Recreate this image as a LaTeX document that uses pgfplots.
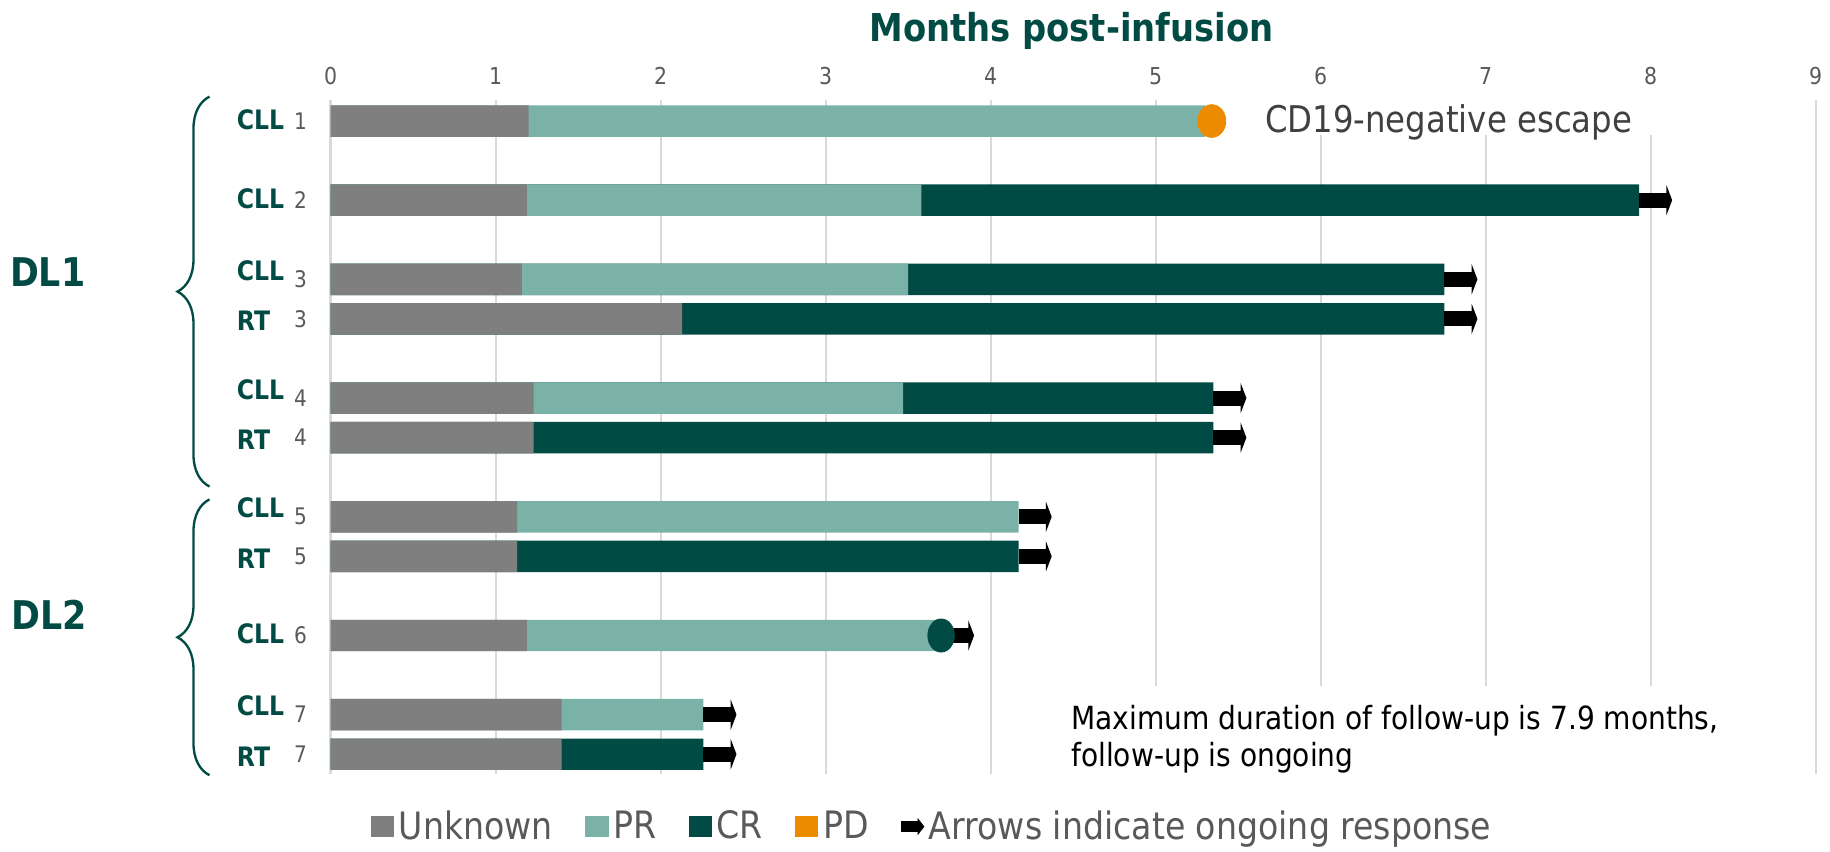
\documentclass[border=0pt]{standalone}
\usepackage{fontspec}
\setmainfont{DejaVu Sans}[FakeStretch=0.88]
\usepackage{pgfplots}
\pgfplotsset{compat=1.18}
\usetikzlibrary{arrows.meta,decorations.pathreplacing}

\definecolor{cUnk}{HTML}{7F7F7F}
\definecolor{cPR}{HTML}{7AB2A8}
\definecolor{cCR}{HTML}{024B44}
\definecolor{cPD}{HTML}{ED8B00}
\definecolor{dg}{HTML}{024B44}
\definecolor{ngray}{HTML}{595959}
\definecolor{gridc}{HTML}{D9D9D9}
\definecolor{ctext}{HTML}{404040}

% row label: bold group name on the left, patient number on the right
\newcommand{\ylab}[3]{\makebox[30pt][l]{\raisebox{#3}[0pt][0pt]{\textcolor{dg}{\fontsize{11.5}{12}\selectfont\bfseries #1}}\hfill\textcolor{ngray}{\fontsize{9.8}{10}\selectfont #2}}}

\pgfplotsset{
  sqlegend/.style={legend image code/.code={\fill[#1] (0pt,-4.25pt) rectangle (9.5pt,4.25pt);}},
  arrlegend/.style={legend image code/.code={
      \fill[black] (0pt,-2.2pt) rectangle (7pt,2.2pt);
      \fill[black] (7pt,-3.2pt) -- (9.5pt,0pt) -- (7pt,3.2pt) -- cycle;}},
  seg/.style={xbar, bar width=13.5pt, bar shift=0pt, draw=none, forget plot},
}

\begin{document}
\begin{tikzpicture}
\begin{axis}[
  scale only axis, width=638pt, height=289.5pt,
  xmin=0, xmax=9, ymin=-0.53, ymax=16.5, y dir=reverse,
  clip=false,
  axis line style={draw=none}, major tick length=0pt,
  xtick={0,1,2,3,4,5,6,7,8,9}, xticklabel pos=upper,
  xmajorgrids, grid style={draw=gridc, line width=0.9pt},
  /pgf/number format/assume math mode=true,
  xticklabel style={font=\fontsize{10}{11}\selectfont, text=ngray, yshift=3pt},
  ytick={0,2,4,5,7,8,10,11,13,15,16},
  yticklabels={\ylab{CLL}{1}{0pt},\ylab{CLL}{2}{0pt},\ylab{CLL}{3}{3pt},\ylab{RT}{3}{-1.5pt},
    \ylab{CLL}{4}{3pt},\ylab{RT}{4}{-1.5pt},\ylab{CLL}{5}{3pt},\ylab{RT}{5}{-1.5pt},
    \ylab{CLL}{6}{0pt},\ylab{CLL}{7}{3pt},\ylab{RT}{7}{-1.5pt}},
  yticklabel style={anchor=east, inner sep=0pt, xshift=-10pt},
  legend columns=-1,
  legend style={at={(axis description cs:0.406,-0.078)}, anchor=center,
    draw=none, fill=none, font=\fontsize{16.2}{18}\selectfont, text=ngray,
    /tikz/every even column/.append style={column sep=12pt}},
]
% complete response (bar end = total follow-up)
\addplot[seg, fill=cCR] coordinates {(7.93,2) (6.75,4) (6.75,5) (5.35,7) (5.35,8) (4.17,11) (2.26,16)};
% partial response (bar end = end of PR)
\addplot[seg, fill=cPR] coordinates {(5.30,0) (3.58,2) (3.50,4) (3.47,7) (4.17,10) (3.70,13) (2.26,15)};
% unknown
\addplot[seg, fill=cUnk] coordinates {(1.20,0) (1.19,2) (1.16,4) (2.13,5) (1.23,7) (1.23,8) (1.13,10) (1.13,11) (1.19,13) (1.40,15) (1.40,16)};
% ongoing response arrows
\addplot[forget plot, quiver={u=0.2,v=0}, black, line width=6.5pt,
  -{Triangle[length=2.5pt,width=13pt]}] coordinates {(7.93,2) (6.75,4) (6.75,5) (5.35,7) (5.35,8) (4.17,10) (4.17,11) (3.70,13) (2.26,15) (2.26,16)};
% PD and CR events
\addplot[forget plot, cPD, only marks, mark=*, mark size=7pt, mark options={xscale=0.86}] coordinates {(5.34,0)};
\addplot[forget plot, cCR, only marks, mark=*, mark size=7.1pt, mark options={xscale=0.8}] coordinates {(3.70,13)};

\addlegendimage{sqlegend=cUnk}\addlegendentry{Unknown}
\addlegendimage{sqlegend=cPR}\addlegendentry{PR}
\addlegendimage{sqlegend=cCR}\addlegendentry{CR}
\addlegendimage{sqlegend=cPD}\addlegendentry{PD}
\addlegendimage{arrlegend}\addlegendentry{Arrows indicate ongoing response}

% text boxes hiding the grid
\fill[white] (axis cs:5.5,-0.6) rectangle (axis cs:8.5,0.35);
\fill[white] (axis cs:4.5,14.27) rectangle (axis cs:8.5,16.6);
\node[anchor=base west, inner sep=0pt, text=ctext, font=\fontsize{15.8}{18}\selectfont] at (axis cs:5.66,0.29) {CD19-negative escape};
\node[anchor=base west, inner sep=0pt, font=\fontsize{13.7}{15.5}\selectfont] at (axis cs:4.486,15.38) {Maximum duration of follow-up is 7.9 months,};
\node[anchor=base west, inner sep=0pt, font=\fontsize{13.7}{15.5}\selectfont] at (axis cs:4.486,16.32) {follow-up is ongoing};

% title
\node[anchor=base, inner sep=0pt, text=dg, font=\fontsize{16.5}{18}\selectfont\bfseries] at (axis cs:4.49,-2.0) {Months post-infusion};

% dose-level braces
\draw[dg, line width=1pt, decorate, decoration={brace, amplitude=13.75pt}] (axis cs:-0.7335,9.235) -- (axis cs:-0.7335,-0.618);
\draw[dg, line width=1pt, decorate, decoration={brace, amplitude=13.75pt}] (axis cs:-0.7335,16.53) -- (axis cs:-0.7335,9.56);
\node[anchor=base, inner sep=0pt, text=dg, font=\fontsize{17}{18}\selectfont\bfseries] at (axis cs:-1.714,4.18) {DL1};
\node[anchor=base, inner sep=0pt, text=dg, font=\fontsize{17}{18}\selectfont\bfseries] at (axis cs:-1.707,12.85) {DL2};

% page frame
\path (axis cs:-2.003,-3.059) rectangle (axis cs:9.056,18.32);
\end{axis}
\end{tikzpicture}
\end{document}
